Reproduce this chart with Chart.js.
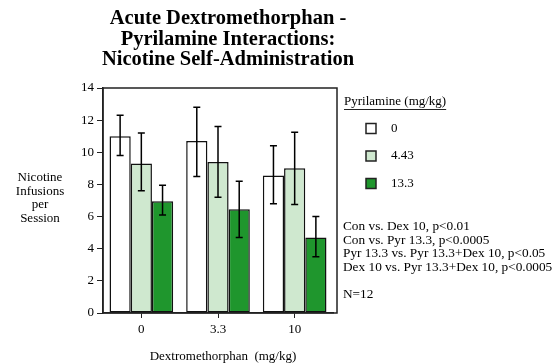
<!DOCTYPE html>
<html>
<head>
<meta charset="utf-8">
<script src="https://cdn.jsdelivr.net/npm/chart.js@4/dist/chart.umd.min.js"></script>
<style>
	body { margin: 0; background: #fff; }
</style>
</head>
<body>
<canvas id="chart-canvas" width="559" height="364"></canvas>
<script>
// dextromethorphan doses (x axis)
let dexDoses = ["0", "3.3", "10"];
// pyrilamine doses (series)
let pyrDoses = ["0", "4.43", "13.3"];

let meanPyr0 = [11.0, 10.7, 8.55];
let meanPyr443 = [9.3, 9.4, 9.0];
let meanPyr133 = [6.95, 6.45, 4.7];

// error bar ends
let hiPyr0 = [12.3, 12.8, 10.4];
let loPyr0 = [9.8, 8.5, 6.8];
let hiPyr443 = [11.2, 11.6, 11.25];
let loPyr443 = [7.6, 7.2, 6.75];
let hiPyr133 = [7.95, 8.2, 6.0];
let loPyr133 = [6.1, 4.7, 3.5];

let yTicks = [0, 2, 4, 6, 8, 10, 12, 14];

let titleLines = ["Acute Dextromethorphan -", "Pyrilamine Interactions:", "Nicotine Self-Administration"];
let yTitleLines = ["Nicotine", "Infusions", "per", "Session"];
let xTitle = "Dextromethorphan  (mg/kg)";
let legendTitle = "Pyrilamine (mg/kg)";
let notes = [
	"Con vs. Dex 10, p<0.01",
	"Con vs. Pyr 13.3, p<0.0005",
	"Pyr 13.3 vs. Pyr 13.3+Dex 10, p<0.05",
	"Dex 10 vs. Pyr 13.3+Dex 10, p<0.0005"
];
let nNote = "N=12";

let fills = ["#ffffff", "#cfe8cf", "#1f962d"];
let serif = "'Liberation Serif', 'DejaVu Serif', serif";

let errorBars = {
	id: "errorBars",
	afterDatasetsDraw(chart){
		let ctx = chart.ctx;
		let y = chart.scales.y;
		let ends = [[hiPyr0, loPyr0], [hiPyr443, loPyr443], [hiPyr133, loPyr133]];
		ctx.save();
		ctx.strokeStyle = "#000";
		ctx.lineWidth = 1.5;
		for(let d = 0; d < chart.data.datasets.length; d++){
			let meta = chart.getDatasetMeta(d);
			meta.data.forEach(function(bar, i){
				let x = bar.x;
				let top = y.getPixelForValue(ends[d][0][i]);
				let bot = y.getPixelForValue(ends[d][1][i]);
				ctx.beginPath();
				ctx.moveTo(x, top);
				ctx.lineTo(x, bot);
				ctx.moveTo(x - 3.5, top);
				ctx.lineTo(x + 3.5, top);
				ctx.moveTo(x - 3.5, bot);
				ctx.lineTo(x + 3.5, bot);
				ctx.stroke();
			});
		}
		ctx.restore();
	}
};

let decorations = {
	id: "decorations",
	afterDraw(chart){
		let ctx = chart.ctx;
		let area = chart.chartArea;
		ctx.save();

		// plot frame
		ctx.strokeStyle = "#222";
		ctx.lineWidth = 1.5;
		ctx.strokeRect(area.left, area.top, area.right + 4 - area.left, area.bottom - area.top);

		ctx.fillStyle = "#000";
		ctx.textAlign = "center";
		ctx.textBaseline = "middle";

		ctx.font = "bold 20.5px " + serif;
		titleLines.forEach(function(t, i){
			ctx.fillText(t, 228, 19 + i * 20.5);
		});

		ctx.font = "13px " + serif;
		yTitleLines.forEach(function(t, i){
			ctx.fillText(t, 40, 178 + i * 13.5);
		});
		ctx.fillText(xTitle, 223, 357);

		// legend
		ctx.textAlign = "left";
		ctx.fillText(legendTitle, 344, 102);
		let w = ctx.measureText(legendTitle).width;
		ctx.lineWidth = 1;
		ctx.beginPath();
		ctx.moveTo(344, 109.5);
		ctx.lineTo(344 + w, 109.5);
		ctx.stroke();
		pyrDoses.forEach(function(p, i){
			let cy = 128.5 + i * 27.5;
			ctx.fillStyle = fills[i];
			ctx.fillRect(366, cy - 5, 10, 10);
			ctx.strokeStyle = "#222";
			ctx.lineWidth = 1.5;
			ctx.strokeRect(366, cy - 5, 10, 10);
			ctx.fillStyle = "#000";
			ctx.fillText(p, 391, cy);
		});

		ctx.font = "13.3px " + serif;
		notes.forEach(function(t, i){
			ctx.fillText(t, 343, 227 + i * 13.5);
		});
		ctx.fillText(nNote, 343, 295);

		ctx.restore();
	}
};

let graph = new Chart("chart-canvas", {
	type: "bar",
	data: {
		labels: dexDoses,
		datasets: [{
			label: pyrDoses[0],
			data: meanPyr0,
			backgroundColor: fills[0]
		},
		{
			label: pyrDoses[1],
			data: meanPyr443,
			backgroundColor: fills[1]
		},
		{
			label: pyrDoses[2],
			data: meanPyr133,
			backgroundColor: fills[2]
		}]
	},
	options: {
		responsive: false,
		animation: false,
		devicePixelRatio: 1,
		layout: { padding: { top: 88, right: 226, bottom: 0, left: 0 } },
		datasets: {
			bar: {
				borderColor: "#111",
				borderWidth: 1.5,
				borderSkipped: false,
				categoryPercentage: 0.83,
				barPercentage: 1
			}
		},
		plugins: {
			legend: { display: false },
			title: { display: false },
			tooltip: { enabled: false }
		},
		scales: {
			x: {
				afterFit(scale){ scale.height = 51; },
				grid: { offset: false, drawOnChartArea: false, tickLength: 5, color: "#222", lineWidth: 1 },
				border: { color: "#222", width: 1.5 },
				ticks: { color: "#000", font: { family: serif, size: 13 }, padding: 4 }
			},
			y: {
				min: 0,
				max: 14,
				afterFit(scale){ scale.width = 103; },
				afterBuildTicks(scale){ scale.ticks = yTicks.map(function(v){ return { value: v }; }); },
				grid: { drawOnChartArea: false, tickLength: 6, color: "#222", lineWidth: 1 },
				border: { color: "#222", width: 1.5 },
				ticks: { color: "#000", font: { family: serif, size: 13 }, padding: 3 }
			}
		}
	},
	plugins: [errorBars, decorations]
});
</script>
</body>
</html>
